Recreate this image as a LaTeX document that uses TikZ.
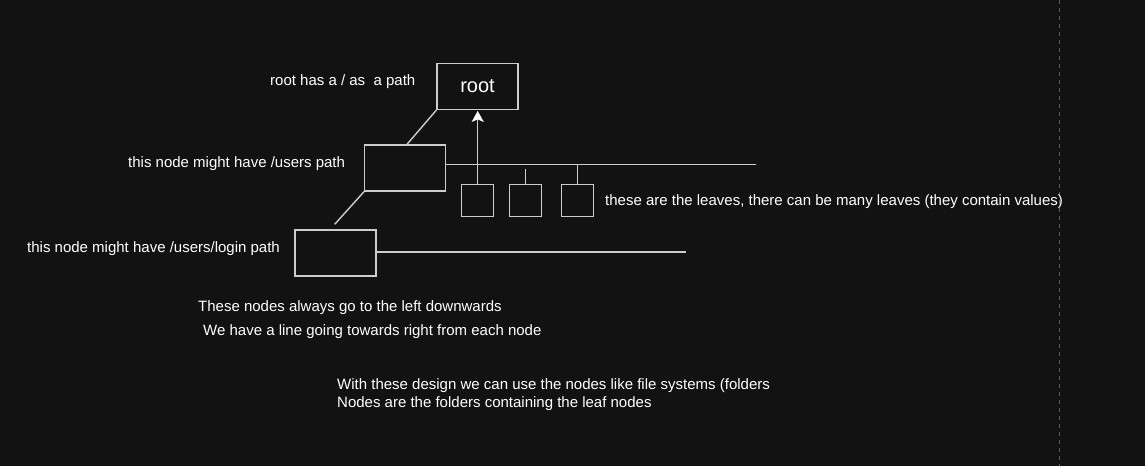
\documentclass[tikz,border=0pt]{standalone}
\usepackage{fontspec}
\setmainfont{Liberation Sans}
\usetikzlibrary{arrows.meta}
\definecolor{bg}{RGB}{18,18,18}
\definecolor{edge}{RGB}{205,205,205}
\definecolor{dashc}{RGB}{90,90,90}
\tikzset{
  box/.style={draw=edge, line width=1.4pt, fill=bg, inner sep=0pt},
  conn/.style={draw=edge, line width=1.4pt},
  label/.style={text=white, inner sep=0pt, anchor=base west, font=\fontsize{15}{18}\selectfont},
}
\begin{document}
\begin{tikzpicture}[x=1pt,y=-1pt]
\fill[bg] (0,0) rectangle (1145,466);
\useasboundingbox (0,0) rectangle (1145,466);
% dashed divider
\draw[dashc, line width=1pt, dash pattern=on 4pt off 4pt] (1059.5,0) -- (1059.5,466);

% boxes
\node[box, minimum width=81pt, minimum height=46pt, text=white, font=\fontsize{20}{24}\selectfont] (root) at (477.5,86.5) {root};
\node[box, minimum width=81pt, minimum height=46pt] (users) at (405.2,168) {};
\node[box, minimum width=81pt, minimum height=46pt] (login) at (335.3,253) {};
\node[box, minimum width=32pt, minimum height=32pt] (leafa) at (477.7,200.3) {};
\node[box, minimum width=32pt, minimum height=32pt] (leafb) at (525.3,200.3) {};
\node[box, minimum width=32pt, minimum height=32pt] (leafc) at (577.7,200.3) {};

% free-end coordinates
\coordinate (uline) at (756,164.5);
\coordinate (lline) at (686,252);
\coordinate (ltop) at (334.7,224.3);
\coordinate (btop) at (525.3,168.7);

% connectors
\draw[conn] (root.south west) -- (users.north west -| 407,0);
\draw[conn] (users.south west) -- (ltop);
\draw[conn] (users.east |- uline) -- (uline);
\draw[conn] (login.east |- lline) -- (lline);
\draw[conn, -{Stealth[length=11pt,width=12pt,inset=2.5pt,color=white,fill=white]}] (leafa.north) -- ([yshift=-0.7pt]root.south -| leafa.north);
\draw[conn] (btop) -- (leafb.north);
\draw[conn] (leafc.north |- uline) -- (leafc.north);

% texts
\node[label] (t1) at (270,85) {root has a / as\ \ a path};
\node[label] (t2) at (128,167) {this node might have /users path};
\node[label] (t3) at (27,252) {this node might have /users/login path};
\node[label] (t4) at (605,205) {these are the leaves, there can be many leaves (they contain values)};
\node[label] (t5) at (198,311) {These nodes always go to the left downwards};
\node[label] (t6) at (203,335) {We have a line going towards right from each node};
\node[label] (t7) at (337,389) {With these design we can use the nodes like file systems (folders};
\node[label] (t8) at (337,407) {Nodes are the folders containing the leaf nodes};
\end{tikzpicture}
\end{document}
